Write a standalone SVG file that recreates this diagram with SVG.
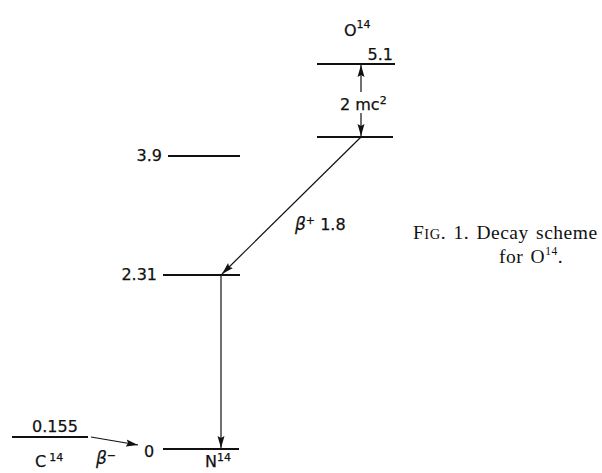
<svg xmlns="http://www.w3.org/2000/svg" width="602" height="473" viewBox="0 0 602 473">
  <defs>
    <style>
      .lvl { stroke: #111; stroke-width: 1.9; fill: none; }
      .arr { stroke: #111; stroke-width: 1.2; fill: none; }
      .lab { font-family: "DejaVu Sans", "Liberation Sans", sans-serif; font-size: 16px; fill: #111; stroke: #111; stroke-width: 0.25; }
      .sup { font-size: 11px; }
      .greek { font-style: italic; font-size: 17px; }
      .cap { font-family: "Liberation Serif", "DejaVu Serif", serif; font-size: 19.5px; letter-spacing: 0.5px; word-spacing: 2px; fill: #111; }
    </style>
    <marker id="ah" viewBox="0 0 12 8" refX="12" refY="4" markerWidth="12" markerHeight="8" markerUnits="userSpaceOnUse" orient="auto">
      <path d="M0,0.5 L12,4 L0,7.5 L2,4 Z" fill="#111"/>
    </marker>
  </defs>
  <rect width="602" height="473" fill="#fff"/>

  <g id="connectors">
    <line class="arr" x1="361" y1="92" x2="361" y2="65" marker-end="url(#ah)"/>
    <line class="arr" x1="361" y1="113" x2="361" y2="136" marker-end="url(#ah)"/>
    <line class="arr" x1="361" y1="137" x2="222" y2="274" marker-end="url(#ah)"/>
    <line class="arr" x1="221" y1="275" x2="221" y2="448" marker-end="url(#ah)"/>
    <line class="arr" x1="91" y1="437" x2="138" y2="445" marker-end="url(#ah)"/>
  </g>

  <g id="o14-5_1">
    <line class="lvl" x1="317" y1="64" x2="395" y2="64"/>
    <text class="lab" x="393" y="60" text-anchor="end" font-size="15">5.1</text>
    <text class="lab" x="344" y="36" font-size="15">O<tspan class="sup" dy="-8">14</tspan></text>
  </g>
  <g id="o14-ground">
    <line class="lvl" x1="317" y1="137" x2="393" y2="137"/>
  </g>
  <g id="label-2mc2">
    <text class="lab" x="340" y="110" font-size="15">2 mc<tspan class="sup" dy="-6">2</tspan></text>
  </g>
  <g id="n14-3_9">
    <line class="lvl" x1="168" y1="156" x2="240" y2="156"/>
    <text class="lab" x="162" y="161" text-anchor="end">3.9</text>
  </g>
  <g id="n14-2_31">
    <line class="lvl" x1="163" y1="275" x2="240" y2="275"/>
    <text class="lab" x="157" y="280" text-anchor="end">2.31</text>
  </g>
  <g id="label-beta-plus">
    <text class="lab" x="295" y="230"><tspan class="greek">β</tspan><tspan class="sup" dy="-6">+</tspan><tspan dy="6"> 1.8</tspan></text>
  </g>
  <g id="n14-ground">
    <line class="lvl" x1="163" y1="449" x2="239" y2="449"/>
    <text class="lab" x="144" y="457">0</text>
    <text class="lab" x="205" y="467">N<tspan class="sup" dy="-6">14</tspan></text>
  </g>
  <g id="c14-ground">
    <line class="lvl" x1="12" y1="437" x2="88" y2="437"/>
    <text class="lab" x="32" y="432">0.155</text>
    <text class="lab" x="35" y="467">C<tspan class="sup" dx="3" dy="-6">14</tspan></text>
  </g>
  <g id="label-beta-minus">
    <text class="lab" x="96" y="464"><tspan class="greek">β</tspan><tspan class="sup" dy="-5">−</tspan></text>
  </g>

  <g id="caption">
    <text class="cap" x="413" y="239">F<tspan font-size="14.5">IG</tspan>. 1. Decay scheme</text>
    <text class="cap" x="499" y="263">for O<tspan font-size="11.5" dy="-8">14</tspan><tspan dy="8">.</tspan></text>
  </g>
</svg>
